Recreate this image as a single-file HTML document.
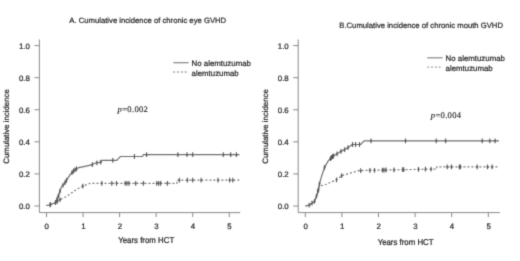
<!DOCTYPE html>
<html><head><meta charset="utf-8"><style>
html,body{margin:0;padding:0;background:#fff;width:520px;height:261px;overflow:hidden}
svg{display:block}
.t{text-rendering:geometricPrecision;font-family:"Liberation Sans",sans-serif;font-size:7.85px;fill:#222;stroke:#222;stroke-width:0.2px}
.p{text-rendering:geometricPrecision;font-family:"Liberation Serif",serif;font-size:8.6px;letter-spacing:0.3px;fill:#222;stroke:#222;stroke-width:0.12px}

</style></head><body>
<svg width="520" height="261" viewBox="0 0 520 261">
<defs><filter id="bl" x="0" y="0" width="1" height="1" color-interpolation-filters="sRGB"><feConvolveMatrix order="5" kernelMatrix="0.00000 0.00013 0.00070 0.00013 0.00000 0.00013 0.01910 0.09973 0.01910 0.00013 0.00070 0.09973 0.52080 0.09973 0.00070 0.00013 0.01910 0.09973 0.01910 0.00013 0.00000 0.00013 0.00070 0.00013 0.00000" divisor="1" edgeMode="duplicate"/></filter></defs><g filter="url(#bl)"><rect width="520" height="261" fill="#fff"/>
<path d="M39.4,39.5 V212.6 H240.2" fill="none" stroke="#8a8a8a" stroke-width="1"/>
<path d="M34.4,206.00 H39.4" stroke="#8a8a8a" stroke-width="1"/>
<text transform="translate(29.90,208.90) scale(1,1.0)" text-anchor="end" class="t">0.0</text>
<path d="M34.4,173.92 H39.4" stroke="#8a8a8a" stroke-width="1"/>
<text transform="translate(29.90,176.82) scale(1,1.0)" text-anchor="end" class="t">0.2</text>
<path d="M34.4,141.84 H39.4" stroke="#8a8a8a" stroke-width="1"/>
<text transform="translate(29.90,144.74) scale(1,1.0)" text-anchor="end" class="t">0.4</text>
<path d="M34.4,109.76 H39.4" stroke="#8a8a8a" stroke-width="1"/>
<text transform="translate(29.90,112.66) scale(1,1.0)" text-anchor="end" class="t">0.6</text>
<path d="M34.4,77.68 H39.4" stroke="#8a8a8a" stroke-width="1"/>
<text transform="translate(29.90,80.58) scale(1,1.0)" text-anchor="end" class="t">0.8</text>
<path d="M34.4,45.60 H39.4" stroke="#8a8a8a" stroke-width="1"/>
<text transform="translate(29.90,48.50) scale(1,1.0)" text-anchor="end" class="t">1.0</text>
<path d="M46.50,212.6 V217.1" stroke="#8a8a8a" stroke-width="1"/>
<text transform="translate(46.80,228.90) scale(1,1.0)" text-anchor="middle" class="t">0</text>
<path d="M83.05,212.6 V217.1" stroke="#8a8a8a" stroke-width="1"/>
<text transform="translate(83.35,228.90) scale(1,1.0)" text-anchor="middle" class="t">1</text>
<path d="M119.60,212.6 V217.1" stroke="#8a8a8a" stroke-width="1"/>
<text transform="translate(119.90,228.90) scale(1,1.0)" text-anchor="middle" class="t">2</text>
<path d="M156.15,212.6 V217.1" stroke="#8a8a8a" stroke-width="1"/>
<text transform="translate(156.45,228.90) scale(1,1.0)" text-anchor="middle" class="t">3</text>
<path d="M192.70,212.6 V217.1" stroke="#8a8a8a" stroke-width="1"/>
<text transform="translate(193.00,228.90) scale(1,1.0)" text-anchor="middle" class="t">4</text>
<path d="M229.25,212.6 V217.1" stroke="#8a8a8a" stroke-width="1"/>
<text transform="translate(229.55,228.90) scale(1,1.0)" text-anchor="middle" class="t">5</text>
<text transform="translate(146.20,243.20) scale(1,1.08)" text-anchor="middle" class="t">Years from HCT</text>
<text transform="translate(9.3,126.4) rotate(-90)" text-anchor="middle" class="t">Cumulative incidence</text>
<text transform="translate(69.30,22.90) scale(1,1.0)" class="t" style="font-size:7.7px">A. Cumulative incidence of chronic eye GVHD</text>
<path d="M173.3,62.7 H188.60000000000002" stroke="#8f8f8f" stroke-width="1.3"/>
<path d="M173.3,72.0 H188.60000000000002" stroke="#9a9a9a" stroke-width="1.3" stroke-dasharray="1.8 2.0"/>
<text transform="translate(191.60,66.30) scale(1,1.0)" class="t">No alemtuzumab</text>
<text transform="translate(191.60,75.60) scale(1,1.0)" class="t">alemtuzumab</text>
<text transform="translate(117.60,111.80) scale(1,1.0)" class="p"><tspan font-style="italic">p</tspan>=0.002</text>
<polyline points="46.5,205.5 50,205 55.7,202.4 58.6,195.4 61.5,186.8 64.3,183.9 67.2,179.1 70,174.9 73.9,170.5 78.7,167.6 85,166.3 92.3,164.7 94.6,163.2 100.7,162.2 102.2,160.3 116.6,160.3 120.4,156.5 142.4,156.5 143.4,154.7 239.5,154.7" fill="none" stroke="#707070" stroke-width="1.2"/>
<polyline points="46.5,205.5 56,203 58.1,200.5 66.7,196.4 70.7,193.6 76.5,189.5 82.8,186.1 90.3,183.3 176.9,183.3 176.9,180.2 240,180.2" fill="none" stroke="#707070" stroke-width="1.2" stroke-dasharray="1.9 2.1"/>
<path d="M50.3,202.5 V207.3 M49.2,204.9 H51.4" stroke="#585858" stroke-width="1.1"/>
<path d="M55.5,200.1 V204.9 M54.4,202.5 H56.6" stroke="#585858" stroke-width="1.1"/>
<path d="M57.2,196.4 V201.2 M56.1,198.8 H58.3" stroke="#585858" stroke-width="1.1"/>
<path d="M58.5,193.2 V198.0 M57.4,195.6 H59.6" stroke="#585858" stroke-width="1.1"/>
<path d="M60.0,188.8 V193.6 M58.9,191.2 H61.1" stroke="#585858" stroke-width="1.1"/>
<path d="M63.0,182.8 V187.6 M61.9,185.2 H64.1" stroke="#585858" stroke-width="1.1"/>
<path d="M65.0,180.3 V185.1 M63.9,182.7 H66.1" stroke="#585858" stroke-width="1.1"/>
<path d="M66.5,177.9 V182.7 M65.4,180.3 H67.6" stroke="#585858" stroke-width="1.1"/>
<path d="M72.0,170.2 V175.0 M70.9,172.6 H73.1" stroke="#585858" stroke-width="1.1"/>
<path d="M73.5,168.6 V173.4 M72.4,171.0 H74.6" stroke="#585858" stroke-width="1.1"/>
<path d="M75.0,167.4 V172.2 M73.9,169.8 H76.1" stroke="#585858" stroke-width="1.1"/>
<path d="M76.5,166.5 V171.3 M75.4,168.9 H77.6" stroke="#585858" stroke-width="1.1"/>
<path d="M92.3,162.3 V167.1 M91.2,164.7 H93.4" stroke="#585858" stroke-width="1.1"/>
<path d="M96.9,160.4 V165.2 M95.8,162.8 H98.0" stroke="#585858" stroke-width="1.1"/>
<path d="M100.7,159.8 V164.6 M99.6,162.2 H101.8" stroke="#585858" stroke-width="1.1"/>
<path d="M112.8,157.9 V162.7 M111.7,160.3 H113.9" stroke="#585858" stroke-width="1.1"/>
<path d="M134.4,154.1 V158.9 M133.3,156.5 H135.5" stroke="#585858" stroke-width="1.1"/>
<path d="M146.6,152.3 V157.1 M145.5,154.7 H147.7" stroke="#585858" stroke-width="1.1"/>
<path d="M177.9,152.3 V157.1 M176.8,154.7 H179.0" stroke="#585858" stroke-width="1.1"/>
<path d="M187.0,152.3 V157.1 M185.9,154.7 H188.1" stroke="#585858" stroke-width="1.1"/>
<path d="M192.7,152.3 V157.1 M191.6,154.7 H193.8" stroke="#585858" stroke-width="1.1"/>
<path d="M223.3,152.3 V157.1 M222.2,154.7 H224.4" stroke="#585858" stroke-width="1.1"/>
<path d="M230.7,152.3 V157.1 M229.6,154.7 H231.8" stroke="#585858" stroke-width="1.1"/>
<path d="M236.4,152.3 V157.1 M235.3,154.7 H237.5" stroke="#585858" stroke-width="1.1"/>
<path d="M50.3,202.1 V206.9 M49.2,204.5 H51.4" stroke="#585858" stroke-width="1.1"/>
<path d="M57.2,199.2 V204.0 M56.1,201.6 H58.3" stroke="#585858" stroke-width="1.1"/>
<path d="M60.0,197.2 V202.0 M58.9,199.6 H61.1" stroke="#585858" stroke-width="1.1"/>
<path d="M82.8,183.7 V188.5 M81.7,186.1 H83.9" stroke="#585858" stroke-width="1.1"/>
<path d="M101.8,180.9 V185.7 M100.7,183.3 H102.9" stroke="#585858" stroke-width="1.1"/>
<path d="M111.8,180.9 V185.7 M110.7,183.3 H112.9" stroke="#585858" stroke-width="1.1"/>
<path d="M116.5,180.9 V185.7 M115.4,183.3 H117.6" stroke="#585858" stroke-width="1.1"/>
<path d="M125.2,180.9 V185.7 M124.1,183.3 H126.3" stroke="#585858" stroke-width="1.1"/>
<path d="M127.0,180.9 V185.7 M125.9,183.3 H128.1" stroke="#585858" stroke-width="1.1"/>
<path d="M129.0,180.9 V185.7 M127.9,183.3 H130.1" stroke="#585858" stroke-width="1.1"/>
<path d="M135.7,180.9 V185.7 M134.6,183.3 H136.8" stroke="#585858" stroke-width="1.1"/>
<path d="M143.4,180.9 V185.7 M142.3,183.3 H144.5" stroke="#585858" stroke-width="1.1"/>
<path d="M156.8,180.9 V185.7 M155.7,183.3 H157.9" stroke="#585858" stroke-width="1.1"/>
<path d="M158.7,180.9 V185.7 M157.6,183.3 H159.8" stroke="#585858" stroke-width="1.1"/>
<path d="M160.6,180.9 V185.7 M159.5,183.3 H161.7" stroke="#585858" stroke-width="1.1"/>
<path d="M167.4,180.9 V185.7 M166.3,183.3 H168.5" stroke="#585858" stroke-width="1.1"/>
<path d="M179.4,177.8 V182.6 M178.3,180.2 H180.5" stroke="#585858" stroke-width="1.1"/>
<path d="M187.4,177.8 V182.6 M186.3,180.2 H188.5" stroke="#585858" stroke-width="1.1"/>
<path d="M192.7,177.8 V182.6 M191.6,180.2 H193.8" stroke="#585858" stroke-width="1.1"/>
<path d="M201.1,177.8 V182.6 M200.0,180.2 H202.2" stroke="#585858" stroke-width="1.1"/>
<path d="M218.0,177.8 V182.6 M216.9,180.2 H219.1" stroke="#585858" stroke-width="1.1"/>
<path d="M229.6,177.8 V182.6 M228.5,180.2 H230.7" stroke="#585858" stroke-width="1.1"/>
<path d="M232.8,177.8 V182.6 M231.7,180.2 H233.9" stroke="#585858" stroke-width="1.1"/>
<path d="M298.2,39.5 V212.6 H500" fill="none" stroke="#8a8a8a" stroke-width="1"/>
<path d="M293.2,206.00 H298.2" stroke="#8a8a8a" stroke-width="1"/>
<text transform="translate(288.70,208.90) scale(1,1.0)" text-anchor="end" class="t">0.0</text>
<path d="M293.2,173.92 H298.2" stroke="#8a8a8a" stroke-width="1"/>
<text transform="translate(288.70,176.82) scale(1,1.0)" text-anchor="end" class="t">0.2</text>
<path d="M293.2,141.84 H298.2" stroke="#8a8a8a" stroke-width="1"/>
<text transform="translate(288.70,144.74) scale(1,1.0)" text-anchor="end" class="t">0.4</text>
<path d="M293.2,109.76 H298.2" stroke="#8a8a8a" stroke-width="1"/>
<text transform="translate(288.70,112.66) scale(1,1.0)" text-anchor="end" class="t">0.6</text>
<path d="M293.2,77.68 H298.2" stroke="#8a8a8a" stroke-width="1"/>
<text transform="translate(288.70,80.58) scale(1,1.0)" text-anchor="end" class="t">0.8</text>
<path d="M293.2,45.60 H298.2" stroke="#8a8a8a" stroke-width="1"/>
<text transform="translate(288.70,48.50) scale(1,1.0)" text-anchor="end" class="t">1.0</text>
<path d="M305.30,212.6 V217.1" stroke="#8a8a8a" stroke-width="1"/>
<text transform="translate(305.60,228.90) scale(1,1.0)" text-anchor="middle" class="t">0</text>
<path d="M341.90,212.6 V217.1" stroke="#8a8a8a" stroke-width="1"/>
<text transform="translate(342.20,228.90) scale(1,1.0)" text-anchor="middle" class="t">1</text>
<path d="M378.50,212.6 V217.1" stroke="#8a8a8a" stroke-width="1"/>
<text transform="translate(378.80,228.90) scale(1,1.0)" text-anchor="middle" class="t">2</text>
<path d="M415.10,212.6 V217.1" stroke="#8a8a8a" stroke-width="1"/>
<text transform="translate(415.40,228.90) scale(1,1.0)" text-anchor="middle" class="t">3</text>
<path d="M451.70,212.6 V217.1" stroke="#8a8a8a" stroke-width="1"/>
<text transform="translate(452.00,228.90) scale(1,1.0)" text-anchor="middle" class="t">4</text>
<path d="M488.30,212.6 V217.1" stroke="#8a8a8a" stroke-width="1"/>
<text transform="translate(488.60,228.90) scale(1,1.0)" text-anchor="middle" class="t">5</text>
<text transform="translate(405.60,244.60) scale(1,1.08)" text-anchor="middle" class="t">Years from HCT</text>
<text transform="translate(268,126.4) rotate(-90)" text-anchor="middle" class="t">Cumulative incidence</text>
<text transform="translate(339.30,28.30) scale(1,1.0)" class="t" style="font-size:7.7px">B.Cumulative incidence of chronic mouth GVHD</text>
<path d="M427.3,57.8 H442.6" stroke="#8f8f8f" stroke-width="1.3"/>
<path d="M427.3,67.1 H442.6" stroke="#9a9a9a" stroke-width="1.3" stroke-dasharray="1.8 2.0"/>
<text transform="translate(445.60,61.40) scale(1,1.0)" class="t">No alemtuzumab</text>
<text transform="translate(445.60,70.70) scale(1,1.0)" class="t">alemtuzumab</text>
<text transform="translate(430.80,117.90) scale(1,1.0)" class="p"><tspan font-style="italic">p</tspan>=0.004</text>
<polyline points="305.5,206 309.2,205.2 314.5,201.4 317.6,193 319.1,185.3 321.4,176.9 323.7,170 324.6,167.3 328.4,160.6 332.2,156.8 339.9,152 345.6,149.1 350.3,146.1 352.6,144.5 360.7,144.5 364.1,140.8 499,140.8" fill="none" stroke="#707070" stroke-width="1.2"/>
<polyline points="305.5,206 309.2,205.2 314.5,201.4 317.6,193 319.5,186 326,184.5 329,183 336.5,179.8 339.5,177.5 341.7,175.6 348,173.8 353.7,172.1 358.4,170.6 436.9,169 436.9,166.9 499,166.9" fill="none" stroke="#707070" stroke-width="1.2" stroke-dasharray="1.9 2.1"/>
<path d="M309.2,202.8 V207.6 M308.1,205.2 H310.3" stroke="#585858" stroke-width="1.1"/>
<path d="M312.0,200.8 V205.6 M310.9,203.2 H313.1" stroke="#585858" stroke-width="1.1"/>
<path d="M314.5,199.0 V203.8 M313.4,201.4 H315.6" stroke="#585858" stroke-width="1.1"/>
<path d="M316.5,193.6 V198.4 M315.4,196.0 H317.6" stroke="#585858" stroke-width="1.1"/>
<path d="M318.0,188.5 V193.3 M316.9,190.9 H319.1" stroke="#585858" stroke-width="1.1"/>
<path d="M319.5,181.4 V186.2 M318.4,183.8 H320.6" stroke="#585858" stroke-width="1.1"/>
<path d="M330.5,156.1 V160.9 M329.4,158.5 H331.6" stroke="#585858" stroke-width="1.1"/>
<path d="M331.5,155.1 V159.9 M330.4,157.5 H332.6" stroke="#585858" stroke-width="1.1"/>
<path d="M332.5,154.2 V159.0 M331.4,156.6 H333.6" stroke="#585858" stroke-width="1.1"/>
<path d="M333.5,153.6 V158.4 M332.4,156.0 H334.6" stroke="#585858" stroke-width="1.1"/>
<path d="M324.6,164.9 V169.7 M323.5,167.3 H325.7" stroke="#585858" stroke-width="1.1"/>
<path d="M337.0,151.4 V156.2 M335.9,153.8 H338.1" stroke="#585858" stroke-width="1.1"/>
<path d="M341.0,149.0 V153.8 M339.9,151.4 H342.1" stroke="#585858" stroke-width="1.1"/>
<path d="M344.6,147.2 V152.0 M343.5,149.6 H345.7" stroke="#585858" stroke-width="1.1"/>
<path d="M348.0,145.2 V150.0 M346.9,147.6 H349.1" stroke="#585858" stroke-width="1.1"/>
<path d="M352.6,142.1 V146.9 M351.5,144.5 H353.7" stroke="#585858" stroke-width="1.1"/>
<path d="M355.6,142.1 V146.9 M354.5,144.5 H356.7" stroke="#585858" stroke-width="1.1"/>
<path d="M359.5,142.1 V146.9 M358.4,144.5 H360.6" stroke="#585858" stroke-width="1.1"/>
<path d="M371.0,138.4 V143.2 M369.9,140.8 H372.1" stroke="#585858" stroke-width="1.1"/>
<path d="M405.5,138.4 V143.2 M404.4,140.8 H406.6" stroke="#585858" stroke-width="1.1"/>
<path d="M436.2,138.4 V143.2 M435.1,140.8 H437.3" stroke="#585858" stroke-width="1.1"/>
<path d="M445.6,138.4 V143.2 M444.5,140.8 H446.7" stroke="#585858" stroke-width="1.1"/>
<path d="M482.2,138.4 V143.2 M481.1,140.8 H483.3" stroke="#585858" stroke-width="1.1"/>
<path d="M489.8,138.4 V143.2 M488.7,140.8 H490.9" stroke="#585858" stroke-width="1.1"/>
<path d="M495.1,138.4 V143.2 M494.0,140.8 H496.2" stroke="#585858" stroke-width="1.1"/>
<path d="M318.5,187.3 V192.1 M317.4,189.7 H319.6" stroke="#585858" stroke-width="1.1"/>
<path d="M336.5,177.4 V182.2 M335.4,179.8 H337.6" stroke="#585858" stroke-width="1.1"/>
<path d="M341.7,173.2 V178.0 M340.6,175.6 H342.8" stroke="#585858" stroke-width="1.1"/>
<path d="M360.7,168.2 V173.0 M359.6,170.6 H361.8" stroke="#585858" stroke-width="1.1"/>
<path d="M369.9,168.0 V172.8 M368.8,170.4 H371.0" stroke="#585858" stroke-width="1.1"/>
<path d="M374.5,167.9 V172.7 M373.4,170.3 H375.6" stroke="#585858" stroke-width="1.1"/>
<path d="M382.5,167.7 V172.5 M381.4,170.1 H383.6" stroke="#585858" stroke-width="1.1"/>
<path d="M384.0,167.7 V172.5 M382.9,170.1 H385.1" stroke="#585858" stroke-width="1.1"/>
<path d="M386.0,167.6 V172.4 M384.9,170.0 H387.1" stroke="#585858" stroke-width="1.1"/>
<path d="M394.0,167.5 V172.3 M392.9,169.9 H395.1" stroke="#585858" stroke-width="1.1"/>
<path d="M402.7,167.3 V172.1 M401.6,169.7 H403.8" stroke="#585858" stroke-width="1.1"/>
<path d="M403.7,167.3 V172.1 M402.6,169.7 H404.8" stroke="#585858" stroke-width="1.1"/>
<path d="M418.5,167.0 V171.8 M417.4,169.4 H419.6" stroke="#585858" stroke-width="1.1"/>
<path d="M425.4,166.8 V171.6 M424.3,169.2 H426.5" stroke="#585858" stroke-width="1.1"/>
<path d="M431.1,166.7 V171.5 M430.0,169.1 H432.2" stroke="#585858" stroke-width="1.1"/>
<path d="M447.2,164.5 V169.3 M446.1,166.9 H448.3" stroke="#585858" stroke-width="1.1"/>
<path d="M451.4,164.5 V169.3 M450.3,166.9 H452.5" stroke="#585858" stroke-width="1.1"/>
<path d="M459.4,164.5 V169.3 M458.3,166.9 H460.5" stroke="#585858" stroke-width="1.1"/>
<path d="M460.4,164.5 V169.3 M459.3,166.9 H461.5" stroke="#585858" stroke-width="1.1"/>
<path d="M477.2,164.5 V169.3 M476.1,166.9 H478.3" stroke="#585858" stroke-width="1.1"/>
<path d="M487.5,164.5 V169.3 M486.4,166.9 H488.6" stroke="#585858" stroke-width="1.1"/>
<path d="M492.1,164.5 V169.3 M491.0,166.9 H493.2" stroke="#585858" stroke-width="1.1"/>
</g></svg>
</body></html>
